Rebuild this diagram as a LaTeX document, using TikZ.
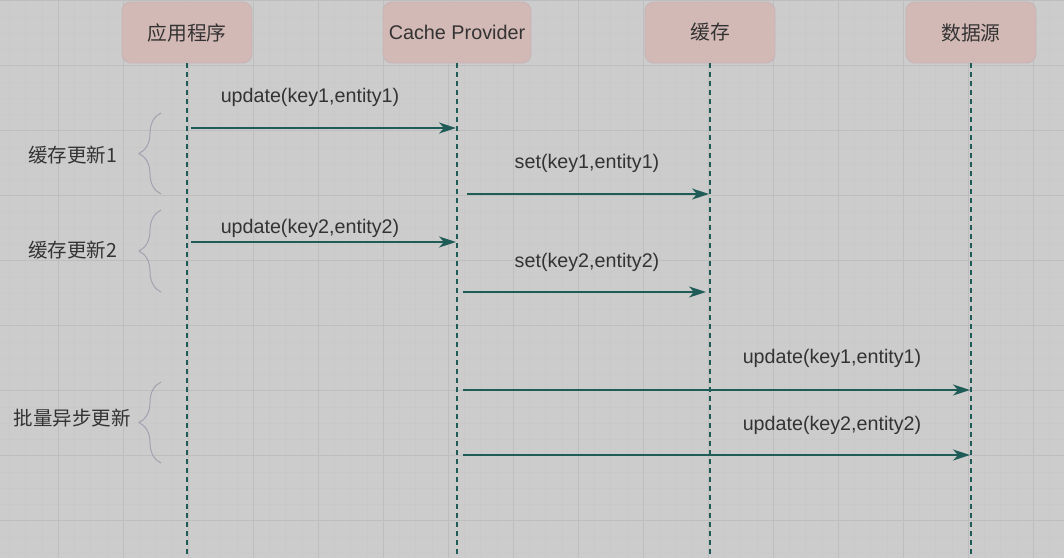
\documentclass[tikz,border=0pt]{standalone}
\usepackage{fontspec}
\setmainfont{Liberation Sans}
\newfontfamily\cjk{Noto Sans CJK SC}
\usetikzlibrary{arrows.meta,decorations.pathreplacing}
\definecolor{bg}{HTML}{CDCCCC}
\definecolor{gmajor}{HTML}{BFBEBE}
\definecolor{gminor}{HTML}{CAC9C9}
\definecolor{boxfill}{HTML}{D3B9B5}
\definecolor{boxline}{HTML}{C4B4B8}
\definecolor{teal}{HTML}{1F5C58}
\definecolor{txt}{HTML}{333333}
\definecolor{brace}{HTML}{A3A2B0}
\tikzset{
  actor/.style={draw=boxline, line width=0.8pt, fill=boxfill, rounded corners=9pt,
    minimum width=130pt, minimum height=61pt, inner sep=0pt, text=txt, font=\fontsize{19.8}{22}\selectfont},
  lifeline/.style={draw=teal, line width=1.7pt, dash pattern=on 5pt off 4pt},
  msg/.style={draw=teal, line width=1.5pt, -{Stealth[length=17pt,width=11pt,inset=5pt]}},
  lbl/.style={text=txt, font=\fontsize{19.7}{22}\selectfont, inner sep=0pt},
  grp/.style={text=txt, font=\cjk\fontsize{19.5}{22}\selectfont, inner sep=0pt},
  brc/.style={draw=brace, line width=1pt, decorate, decoration={brace, amplitude=22pt, aspect=0.5}},
}
\begin{document}
\begin{tikzpicture}[x=1pt,y=-1pt]
\useasboundingbox (0,0) rectangle (1064,558);
\fill[bg] (0,0) rectangle (1064,558);
% minor grid
\foreach \i in {-3,...,63} {
  \draw[gminor, line width=0.5pt] ({58+16.25*\i},0) -- ({58+16.25*\i},558);
}
\foreach \i in {-4,...,30} {
  \draw[gminor, line width=0.5pt] (0,{65.5+16.25*\i}) -- (1064,{65.5+16.25*\i});
}
% major grid
\foreach \i in {-1,...,15} {
  \draw[gmajor, line width=1pt] ({58+65*\i},0) -- ({58+65*\i},558);
}
\foreach \i in {-1,...,8} {
  \draw[gmajor, line width=1pt] (0,{65.5+65*\i}) -- (1064,{65.5+65*\i});
}
% actors
\node[actor] (app) at (187,32.5) {\cjk 应用程序};
\node[actor, minimum width=148pt] (cp) at (457,32.5) {Cache Provider};
\node[actor] (cache) at (710,32.5) {\cjk 缓存};
\node[actor] (ds) at (971,32.5) {\cjk 数据源};
% lifeline ends
\coordinate (appE) at (187,558);
\coordinate (cpE) at (457,558);
\coordinate (cacheE) at (710,558);
\coordinate (dsE) at (971,558);
\draw[lifeline] (app.south) -- (appE);
\draw[lifeline] (cp.south) -- (cpE);
\draw[lifeline] (cache.south) -- (cacheE);
\draw[lifeline] (ds.south) -- (dsE);
% message anchors
\coordinate (m1s) at (191,128); \coordinate (m1e) at (456,128);
\coordinate (m2s) at (467,194); \coordinate (m2e) at (709,194);
\coordinate (m3s) at (191,242); \coordinate (m3e) at (456,242);
\coordinate (m4s) at (463,292); \coordinate (m4e) at (706,292);
\coordinate (m5s) at (463,390); \coordinate (m5e) at (970,390);
\coordinate (m6s) at (463,455); \coordinate (m6e) at (970,455);
\draw[msg] (m1s) -- (m1e);
\draw[msg] (m2s) -- (m2e);
\draw[msg] (m3s) -- (m3e);
\draw[msg] (m4s) -- (m4e);
\draw[msg] (m5s) -- (m5e);
\draw[msg] (m6s) -- (m6e);
\node[lbl] (l1) at (310,97) {update(key1,entity1)};
\node[lbl] (l2) at (587,163) {set(key1,entity1)};
\node[lbl] (l3) at (310,228) {update(key2,entity2)};
\node[lbl] (l4) at (587,262) {set(key2,entity2)};
\node[lbl] (l5) at (832,358) {update(key1,entity1)};
\node[lbl] (l6) at (832,425) {update(key2,entity2)};
% braces
\coordinate (b1t) at (161,113); \coordinate (b1b) at (161,194);
\coordinate (b2t) at (161,210); \coordinate (b2b) at (161,292);
\coordinate (b3t) at (161,382); \coordinate (b3b) at (161,463);
\draw[brc] (b1b) -- (b1t);
\draw[brc] (b2b) -- (b2t);
\draw[brc] (b3b) -- (b3t);
\node[grp] (g1) at (72.5,155) {缓存更新1};
\node[grp] (g2) at (72.5,250) {缓存更新2};
\node[grp] (g3) at (72,418) {批量异步更新};
\end{tikzpicture}
\end{document}
